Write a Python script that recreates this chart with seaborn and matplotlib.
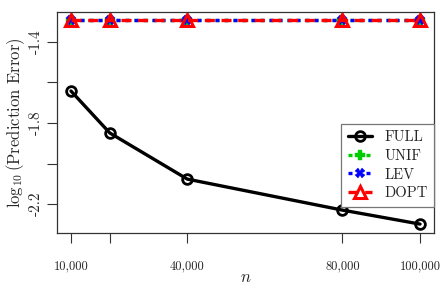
import numpy as np
import pandas as pd
import matplotlib
import matplotlib.pyplot as plt
import seaborn as sns

# data
n_values = [10000, 20000, 40000, 80000, 100000]
full_err = [-1.642, -1.849, -2.077, -2.230, -2.299]
unif_err = [-1.293, -1.293, -1.293, -1.293, -1.293]
lev_err = [-1.291, -1.291, -1.291, -1.291, -1.291]
dopt_err = [-1.291, -1.291, -1.291, -1.291, -1.291]

x_ticks = [10000, 20000, 40000, 80000, 100000]
x_ticklabels = ['10,000', '', '40,000', '80,000', '100,000']
y_ticks = [-2.2, -2.0, -1.8, -1.6, -1.4]
y_ticklabels = ['-2.2', '', '-1.8', '', '-1.4']

sns.set_style('ticks')
plt.rcParams['font.family'] = ['cmr10', 'DejaVu Serif']
plt.rcParams['mathtext.fontset'] = 'cm'
plt.rcParams['axes.unicode_minus'] = False

series = [
    ('FULL', full_err, 'black', '-', 'o', 'none', 7, 2.0),
    ('UNIF', unif_err, '#00CD00', (0, (1.2, 1.5)), 'P', '#00CD00', 7, 0.3),
    ('LEV', lev_err, '#0000FF', (0, (1.2, 1.5)), 'X', '#0000FF', 7, 0.3),
    ('DOPT', dopt_err, '#FF0000', (0, (3, 2)), '^', 'none', 8, 2.2),
]

fig = plt.figure(figsize=(4.43, 2.88), dpi=100)
ax = fig.add_axes([57 / 443, (288 - 233) / 288, (434 - 57) / 443, (233 - 12) / 288])

for name, vals, col, ls, mk, mfc, ms, mew in series:
    df = pd.DataFrame({'n': n_values, 'err': vals})
    sns.lineplot(data=df, x='n', y='err', ax=ax, color=col, linestyle=ls,
                 linewidth=2.4, marker=mk, markersize=ms,
                 markerfacecolor=mfc, markeredgecolor=col, markeredgewidth=mew,
                 label=name)

ax.set_xlim(6400, 103600)
ax.set_ylim(-2.343, -1.252)
ax.set_xticks(x_ticks)
ax.set_xticklabels(x_ticklabels, fontsize=9)
ax.set_yticks(y_ticks)
ax.set_yticklabels(y_ticklabels, fontsize=11, rotation=90, va='center')
ax.tick_params(axis='both', direction='out', length=7, width=0.8, color='#333333')
ax.tick_params(axis='x', pad=13)
ax.tick_params(axis='y', pad=3)
for spine in ax.spines.values():
    spine.set_visible(True)
    spine.set_color('#333333')
    spine.set_linewidth(0.9)

ax.set_xlabel('$n$', fontsize=12, labelpad=-2)
ax.set_ylabel(r'$\log_{10}$(Prediction Error)', fontsize=12, labelpad=2)

leg = ax.legend(loc='lower right', bbox_to_anchor=(1.0, 0.118), fontsize=10.5,
                frameon=True, fancybox=False, framealpha=1, edgecolor='#777777',
                handlelength=1.7, handletextpad=0.8, borderpad=0.45,
                labelspacing=0.35, borderaxespad=0)
leg.get_frame().set_linewidth(0.9)

fig.savefig('out.png', dpi=100)
